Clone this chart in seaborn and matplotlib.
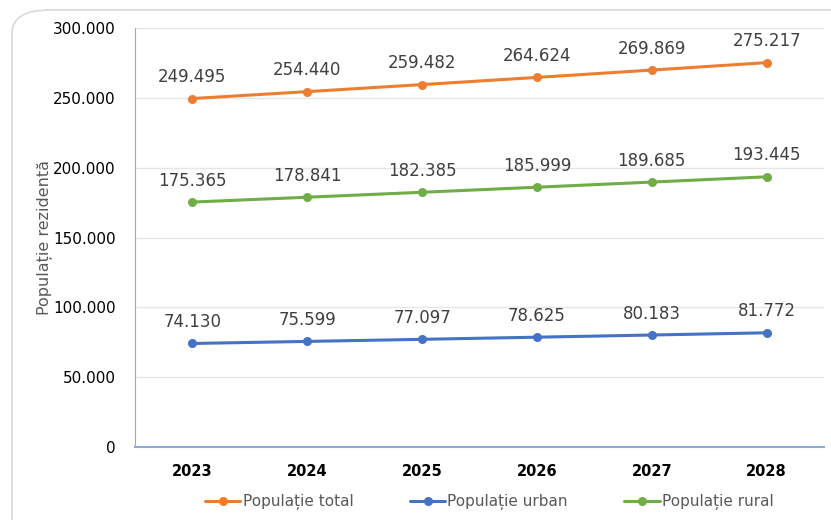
import pandas as pd
import matplotlib.pyplot as plt
import seaborn as sns
from matplotlib.patches import FancyBboxPatch

# values
years = ["2023", "2024", "2025", "2026", "2027", "2028"]
total = [249495, 254440, 259482, 264624, 269869, 275217]
urban = [74130, 75599, 77097, 78625, 80183, 81772]
rural = [175365, 178841, 182385, 185999, 189685, 193445]
series_names = ["Populație total", "Populație urban", "Populație rural"]
colors = ["#ED7D31", "#4472C4", "#70AD47"]

df = pd.DataFrame({"An": years * 3,
                   "Valoare": total + urban + rural,
                   "Serie": [s for s in series_names for _ in years]})


def fmt(v):
    return f"{v:,.0f}".replace(",", ".")


sns.set_style("white")
plt.rcParams["font.family"] = ["DejaVu Sans"]

fig = plt.figure(figsize=(8.31, 5.20), dpi=100)
# rounded card behind the chart
card = FancyBboxPatch((12 / 831, -0.2), 1.2, 1.2 - 10 / 520, boxstyle="round,pad=0,rounding_size=0.045",
                      transform=fig.transFigure, facecolor="white", edgecolor="#d9d9d9",
                      linewidth=1.2, zorder=-10)
fig.patches.append(card)

ax = fig.add_axes([135 / 831, 1 - 447 / 520, (824 - 135) / 831, (447 - 28) / 520])
ax.set_facecolor("none")

sns.lineplot(data=df, x="An", y="Valoare", hue="Serie", palette=colors, marker="o",
             markersize=6.5, markeredgewidth=0, linewidth=2.2, ax=ax, sort=False)

for name, vals, c in zip(series_names, [total, urban, rural], colors):
    for i, v in enumerate(vals):
        ax.annotate(fmt(v), (i, v), xytext=(0, 9), textcoords="offset points",
                    ha="center", va="bottom", fontsize=12, color="#404040")

ax.set_xlim(-0.5, 5.5)
ax.set_ylim(0, 300000)
ax.set_yticks(range(0, 300001, 50000))
ax.set_yticklabels([fmt(v) for v in range(0, 300001, 50000)], fontsize=11, color="black")
ax.tick_params(axis="x", labelsize=10.5, colors="black", length=0, pad=12)
ax.tick_params(axis="y", length=0, pad=14)
for lbl in ax.get_xticklabels():
    lbl.set_fontweight("bold")
ax.grid(axis="y", color="#e6e6e6", linewidth=1)
ax.set_axisbelow(True)
for s in ["top", "right"]:
    ax.spines[s].set_visible(False)
ax.spines["left"].set_color("#8eaadb")
ax.spines["bottom"].set_color("#8eaadb")
ax.spines["bottom"].set_linewidth(1.5)

ax.set_xlabel("")
ax.set_ylabel("Populație rezidentă", fontsize=11.5, color="#595959", labelpad=0)

ax.legend(loc="center", bbox_to_anchor=(0.5145, -0.132), ncol=3, frameon=False,
          fontsize=11, handlelength=2.3, columnspacing=3.7,
          handletextpad=0.15, labelcolor="#595959")

fig.savefig("out.png", dpi=100)
